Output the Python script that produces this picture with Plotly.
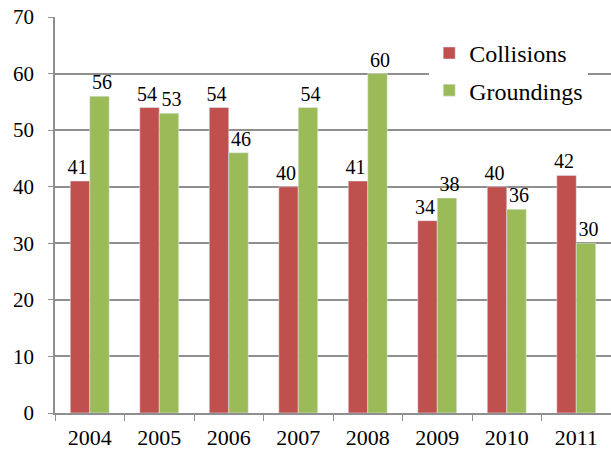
import plotly.graph_objects as go

years = ["2004", "2005", "2006", "2007", "2008", "2009", "2010", "2011"]
collisions = [41, 54, 54, 40, 41, 34, 40, 42]
groundings = [56, 53, 46, 54, 60, 38, 36, 30]
y_ticks = [0, 10, 20, 30, 40, 50, 60, 70]

FONT = "Times New Roman"
GRID = "#8f8f8f"

fig = go.Figure()
fig.add_trace(go.Bar(
    x=years, y=collisions, name="Collisions", marker_color="#C0504D",
    texttemplate="%{y}\u2005", textposition="outside", cliponaxis=False,
    constraintext="none",
    textfont=dict(family=FONT, size=20, color="black"), legendgroup="a",
))
fig.add_trace(go.Bar(
    x=years, y=groundings, name="Groundings", marker_color="#9BBB59",
    texttemplate="\u2005%{y}", textposition="outside", cliponaxis=False,
    constraintext="none",
    textfont=dict(family=FONT, size=20, color="black"), legendgroup="b",
))

fig.update_layout(
    width=611, height=454,
    margin=dict(l=55, r=0, t=17, b=41, autoexpand=False),
    paper_bgcolor="white", plot_bgcolor="white",
    barmode="group", bargap=0.44, bargroupgap=0,
    font=dict(family=FONT, size=20, color="black"),
    legend=dict(
        x=0.673, y=0.965, xanchor="left", yanchor="top",
        bgcolor="white", font=dict(family=FONT, size=24, color="black"),
        traceorder="grouped", tracegroupgap=3, itemwidth=30,
    ),
    xaxis=dict(
        range=[-0.5, 7.5], showline=True, linecolor=GRID, linewidth=1.5,
        ticks="outside", tickson="boundaries", ticklen=6, tickcolor=GRID,
        tickfont=dict(family=FONT, size=22, color="black"),
        showgrid=False, automargin=False, ticklabelstandoff=4,
    ),
    yaxis=dict(
        range=[0, 70], tickvals=y_ticks, showline=True, linecolor=GRID, linewidth=1.5,
        ticks="outside", ticklen=5, tickcolor=GRID,
        showgrid=True, gridcolor=GRID, gridwidth=1.5,
        zeroline=False, ticklabelstandoff=10, automargin=False,
        tickfont=dict(family=FONT, size=21, color="black"),
    ),
)

fig.write_html("out.html", config={"displayModeBar": False},
               post_script="document.body.style.margin='0px';")
